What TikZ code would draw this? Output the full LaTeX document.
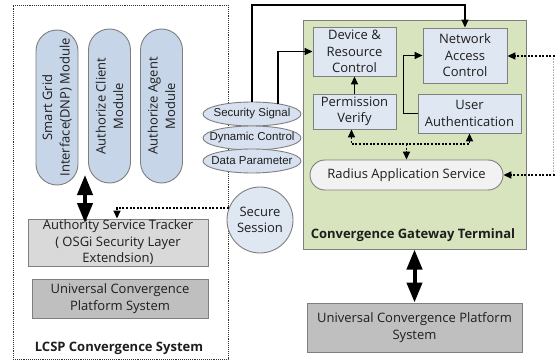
\documentclass[tikz,border=0pt]{standalone}
\usepackage{fontspec}
\setmainfont{Open Sans}
\newfontfamily\ellfont{Liberation Sans}
\usetikzlibrary{arrows.meta,shapes.geometric}

\definecolor{edge}{HTML}{7F7F7F}
\definecolor{ink}{HTML}{1E1E1E}
\definecolor{pillfill}{HTML}{C6D5E7}
\definecolor{ellfill}{HTML}{D8E1EF}
\definecolor{boxfill}{HTML}{DFE7F3}
\definecolor{termfill}{HTML}{D7E4BD}
\definecolor{radfill}{HTML}{F2F2F2}
\definecolor{trackfill}{HTML}{D9D9D9}
\definecolor{platfill}{HTML}{BFBFBF}

\tikzset{
  txt/.style={font=\fontsize{13}{16.5}\selectfont, text=ink, align=center},
  frame/.style={draw=black!80, densely dotted, line width=0.9pt, inner sep=0},
  termbox/.style={draw=edge, fill=termfill, line width=1pt, inner sep=0},
  ibox/.style={txt, draw=edge, fill=boxfill, line width=0.9pt, inner sep=0},
  pill/.style={txt, font=\fontsize{13}{17.5}\selectfont, draw=edge, fill=pillfill,
    line width=0.9pt, inner sep=0, rounded corners=21pt, rotate=90, minimum height=42},
  oval/.style={ellipse, draw=edge, fill=ellfill, line width=0.9pt, inner sep=0,
    minimum width=98, minimum height=24, text=ink,
    font=\ellfont\fontsize{11.5}{12}\selectfont},
  graybox/.style={txt, draw=edge, line width=0.9pt, inner sep=0},
  boldlabel/.style={font=\bfseries\fontsize{13}{15}\selectfont, text=ink},
  conn/.style={line width=1.6pt, -{Triangle[width=7pt,length=8pt]}},
  dots/.style={line width=1.6pt, dash pattern=on 2pt off 1.6pt},
  dotconn/.style={dots, -{Triangle[width=7pt,length=8pt]}},
  dotboth/.style={dots, {Triangle[width=7pt,length=8pt]}-{Triangle[width=7pt,length=8pt]}},
  bigarrow/.style={line width=4pt,
    {Triangle[width=15pt,length=20pt]}-{Triangle[width=15pt,length=20pt]}}
}

\begin{document}
\begin{tikzpicture}[x=1pt,y=-1pt]
\useasboundingbox (0,0) rectangle (555,361);
\fill[white] (0,0) rectangle (555,361);

% ---- LCSP convergence system (left) ----
\node[frame, minimum width=215, minimum height=354] (lcsp) at (120.5,182) {};
\node[boldlabel] (lcsplabel) at (119,348) {LCSP Convergence System};

\node[pill, minimum width=155] (sgi) at (57,107.5) {Smart Grid\\Interface(DNP) Module};
\node[pill, minimum width=154] (acm) at (109.5,106) {Authorize Client\\Module};
\node[pill, minimum width=154] (aam) at (161.5,106) {Authorize Agent\\Module};

\node[graybox, fill=trackfill, minimum width=180, minimum height=47] (tracker) at (118,242.5)
  {Authority Service Tracker\\( OSGi Security Layer\\Extendsion)};
\node[graybox, fill=platfill, minimum width=176, minimum height=39] (ucpsl) at (120,298.5)
  {Universal Convergence\\Platform System};

% ---- signals between the systems ----
\node[oval] (ss) at (252,114) {\makebox[0pt]{Security Signal}};
\node[oval] (dc) at (252,138) {\makebox[0pt]{Dynamic Control}};
\node[oval] (dp) at (252,161) {\makebox[0pt]{Data Parameter}};
\node[circle, draw=edge, fill=boxfill, line width=0.9pt, minimum size=66, inner sep=0,
  txt, font=\fontsize{13}{16}\selectfont] (sess) at (260,220) {Secure\\Session};

% ---- convergence gateway terminal (right) ----
\node[termbox, minimum width=223, minimum height=228] (cgt) at (414.5,135) {};
\node[boldlabel] (cgtlabel) at (413,235) {Convergence Gateway Terminal};

\node[ibox, minimum width=83, minimum height=49] (drc) at (354.5,51.5) {Device \&\\Resource\\Control};
\node[ibox, minimum width=84, minimum height=55] (nac) at (465,55.5) {Network\\Access\\Control};
\node[ibox, minimum width=83, minimum height=35] (pv) at (354.5,111.5) {Permission\\Verify};
\node[ibox, minimum width=103, minimum height=39] (ua) at (469.5,113.5) {User\\Authentication};
\node[txt, draw=edge, fill=radfill, line width=0.9pt, inner sep=0, rounded corners=15pt,
  minimum width=193, minimum height=30] (ras) at (406.5,175) {Radius Application Service};

\node[graybox, fill=platfill, minimum width=215, minimum height=49] (ucpsr) at (414.5,327.5)
  {Universal Convergence Platform\\System};

% ---- helper points ----
\coordinate (topline) at (0,5);
\coordinate (dotline) at (0,144);
\coordinate (rin1) at (555,56);
\coordinate (rin2) at (555,175);
\coordinate (rtop) at (553,56);
\coordinate (rbot) at (553,175);
\coordinate (la1) at (85,175);
\coordinate (la2) at (85,223);

% ---- connectors ----
\draw[conn] (ss.north) -- (ss.north |- topline) -| (nac.north);
\draw[conn] ([xshift=26pt,yshift=-2pt]ss.north) |- (drc.west);
\draw[conn] (pv.north) -- (drc.south);
\draw[conn] (ua.west) -- ++(-14,0) |- (nac.west);

\draw[dotboth] ([xshift=-3pt]pv.south) -- ([xshift=-3pt]pv.south |- dotline)
  -- (ua.south |- dotline) -- (ua.south);
\draw[dotconn] (ras.north |- dotline) -- (ras.north);

\draw[black!30, densely dotted, line width=0.6pt] (rtop) -- (rbot);
\draw[dotconn] (rin1) -- (rin1 -| nac.east);
\draw[dotconn] (rin2) -- (rin2 -| ras.east);

\draw[dotconn] (sess.159) -| ([xshift=-1pt]tracker.north);

\draw[bigarrow] (la1) -- (la2);
\draw[bigarrow] (cgt.south) -- (ucpsr.north);
\end{tikzpicture}
\end{document}
